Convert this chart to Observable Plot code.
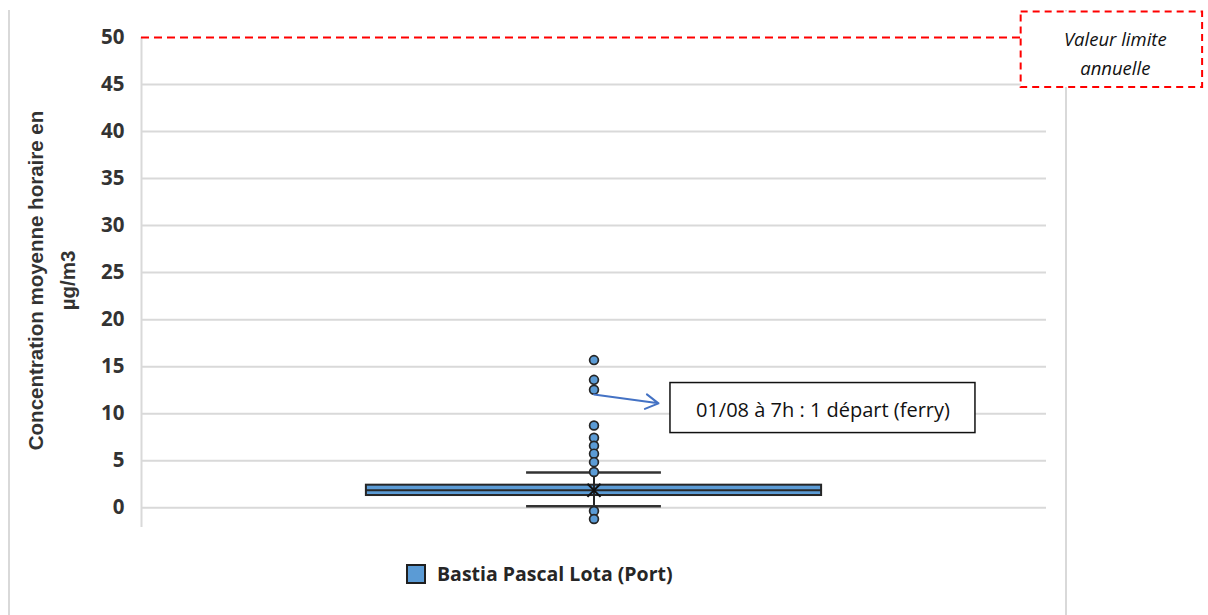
<!DOCTYPE html>
<html>
<head>
<meta charset="utf-8">
<script src="https://cdn.jsdelivr.net/npm/d3@7"></script>
<script src="https://cdn.jsdelivr.net/npm/@observablehq/plot@0.6"></script>
<style>
  html, body { margin: 0; padding: 0; background: #fff; }
  body { width: 1208px; height: 615px; position: relative; overflow: hidden; font-family: "Open Sans", sans-serif; }
  #frame { position: absolute; left: 8px; top: 10px; width: 1055px; height: 610px;
           border-left: 2px solid #d9d9d9; border-right: 2px solid #d9d9d9; }
  #chart { position: absolute; left: 0; top: 0; }
  #legend { position: absolute; left: 406px; top: 560px; display: flex; align-items: center; gap: 11px;
            font-family: "Open Sans", sans-serif; font-weight: bold; font-size: 19.5px; color: #262626; }
  #legend .sw { width: 16px; height: 16px; background: #5B9BD5; border: 2px solid #1f1f1f; }
</style>
</head>
<body>
<div id="frame"></div>
<div id="chart"></div>
<div id="legend"></div>
<script>
// ---- data ----
const categories = ["Bastia Pascal Lota (Port)"];
const q1Values = [1.3];
const medianValues = [1.85];
const q3Values = [2.4];
const whiskerLowValues = [0.17];
const whiskerHighValues = [3.75];
const meanValues = [1.85];
const outlierValues = [15.7, 13.6, 12.55, 8.75, 7.45, 6.6, 5.75, 4.85, 3.8, -0.35, -1.2];
const yTicks = [0, 5, 10, 15, 20, 25, 30, 35, 40, 45, 50];
const limitValue = [50];
const yTitle = "Concentration moyenne horaire en\nµg/m3";
const limitLabel = "Valeur limite\nannuelle";
const annotationLabel = "01/08 à 7h : 1 départ (ferry)";

// ---- styling constants ----
const boxHalf = 0.503, capHalf = 0.149;
const blue = "#5B9BD5", dark = "#262626", grid = "#d9d9d9";

const stats = categories.map((c, i) => ({
  cat: c, pos: i, q1: q1Values[i], median: medianValues[i], q3: q3Values[i],
  lo: whiskerLowValues[i], hi: whiskerHighValues[i], mean: meanValues[i]
}));
const outliers = outlierValues.map(v => ({pos: 0, v}));

// annotation placement (data coordinates)
const limitBox = {x1: 0.944, x2: 1.345, y1: 44.68, y2: 52.72, tx: 1.152, ty: 48.5};
const noteBox = {x1: 0.169, x2: 0.843, y1: 7.94, y2: 13.26, tx: 0.506, ty: 10.3};
const noteArrow = {x1: 0, y1: 12.05, x2: 0.1425, y2: 11.1};

const chart = Plot.plot({
  width: 1208,
  height: 545,
  marginLeft: 141,
  marginRight: 162,
  marginTop: 37,
  marginBottom: 18,
  style: {background: "transparent", overflow: "visible"},
  x: {domain: [-1, 1], axis: null},
  y: {domain: [-2.1, 50], axis: null},
  marks: [
    Plot.ruleY(yTicks.filter(t => t < 50), {stroke: grid, strokeWidth: 2}),
    Plot.ruleX([-1], {y1: -2.1, y2: 50, stroke: grid, strokeWidth: 2}),
    Plot.ruleY(limitValue, {x1: -1, x2: limitBox.x1, stroke: "#ff0000", strokeWidth: 2.2, strokeDasharray: "8,5"}),
    Plot.axisY(yTicks, {tickSize: 0, tickPadding: 17, fontSize: 20.5, fontWeight: "bold", fill: "#333", fontFamily: "Open Sans", label: null}),
    Plot.text([yTitle], {frameAnchor: "left", textAnchor: "middle", lineAnchor: "middle", dx: -93, dy: -2, rotate: -90,
      fontSize: 20.5, fontWeight: "bold", lineHeight: 1.58, fill: "#333", fontFamily: "Liberation Sans"}),
    // whiskers
    Plot.ruleX(stats, {x: "pos", y1: "lo", y2: "hi", stroke: dark, strokeWidth: 2}),
    Plot.ruleY(stats, {y: "lo", x1: d => d.pos - capHalf, x2: d => d.pos + capHalf, stroke: "#333", strokeWidth: 2.5}),
    Plot.ruleY(stats, {y: "hi", x1: d => d.pos - capHalf, x2: d => d.pos + capHalf, stroke: "#333", strokeWidth: 2.5}),
    // box
    Plot.rect(stats, {x1: d => d.pos - boxHalf, x2: d => d.pos + boxHalf, y1: "q1", y2: "q3",
      fill: blue, stroke: dark, strokeWidth: 2}),
    Plot.ruleY(stats, {y: "median", x1: d => d.pos - boxHalf, x2: d => d.pos + boxHalf, stroke: dark, strokeWidth: 2}),
    Plot.ruleX(stats, {x: "pos", y1: "q1", y2: "q3", stroke: dark, strokeWidth: 2}),
    Plot.dot(stats, {x: "pos", y: "mean", symbol: "times", r: 6, stroke: "#111", strokeWidth: 2}),
    // outliers
    Plot.dot(outliers, {x: "pos", y: "v", r: 4.4, fill: blue, stroke: dark, strokeWidth: 1.7}),
    // annotation
    Plot.arrow([noteArrow], {x1: "x1", y1: "y1", x2: "x2", y2: "y2", stroke: "#4472C4", strokeWidth: 2, headLength: 11}),
    Plot.rect([noteBox], {x1: "x1", x2: "x2", y1: "y1", y2: "y2", fill: "white", stroke: "#111", strokeWidth: 1.5}),
    Plot.text([noteBox], {x: "tx", y: "ty", text: () => annotationLabel, fontSize: 20, fill: "#111", fontFamily: "Open Sans"}),
    // limit label box
    Plot.rect([limitBox], {x1: "x1", x2: "x2", y1: "y1", y2: "y2", fill: "white", stroke: "#ff0000", strokeWidth: 2, strokeDasharray: "7,5"}),
    Plot.text([limitBox], {x: "tx", y: "ty", text: () => limitLabel, fontSize: 18.5, fontStyle: "italic",
      lineHeight: 1.55, fill: "#111", fontFamily: "Open Sans"})
  ]
});
document.getElementById("chart").append(chart);

const legend = document.getElementById("legend");
categories.forEach(c => {
  const sw = document.createElement("span"); sw.className = "sw";
  const t = document.createElement("span"); t.textContent = c;
  legend.append(sw, t);
});
</script>
</body>
</html>
